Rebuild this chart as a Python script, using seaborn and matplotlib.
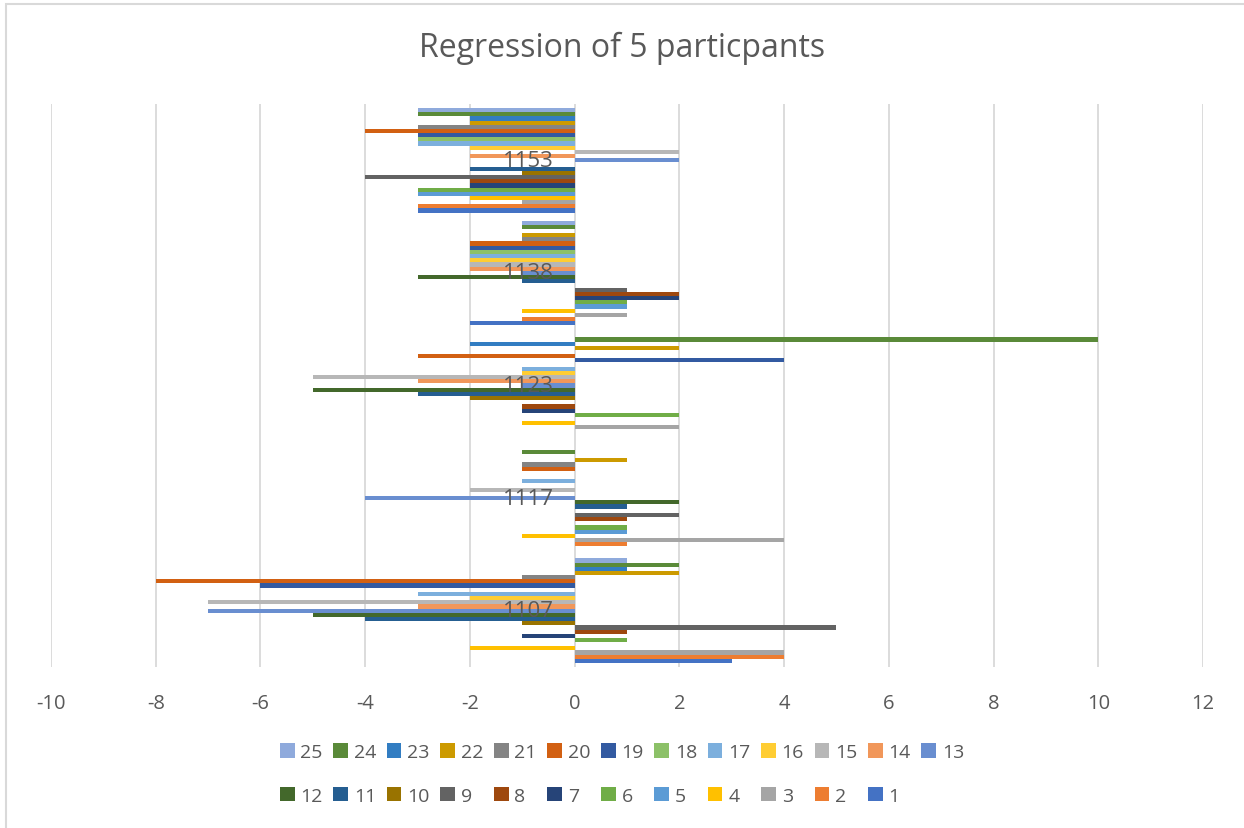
import matplotlib
matplotlib.use("Agg")
import matplotlib.pyplot as plt
from matplotlib.patches import Rectangle, Patch
import seaborn as sns
import pandas as pd

# Participants (categories) and the 25 regression series
participants = ["1107", "1117", "1123", "1138", "1153"]
series = [str(i) for i in range(1, 26)]

# values per participant, series 1 .. 25
v1107 = [3, 4, 4, -2, 0, 1, -1, 1, 5, -1, -4, -5, -7, -3, -7, -2, -3, 0, -6, -8, -1, 2, 1, 2, 1]
v1117 = [0, 1, 4, -1, 1, 1, 0, 1, 2, 0, 1, 2, -4, 0, -2, 0, -1, 0, 0, -1, -1, 1, 0, -1, 0]
v1123 = [0, 0, 2, -1, 0, 2, -1, -1, 0, -2, -3, -5, -1, -3, -5, -1, -1, 0, 4, -3, 0, 2, -2, 10, 0]
v1138 = [-2, -1, 1, -1, 1, 1, 2, 2, 1, 0, -1, -3, -1, -2, -2, -2, -2, -2, -2, -2, -1, -1, 0, -1, -1]
v1153 = [-3, -3, -1, -2, -3, -3, -2, -2, -4, -1, -2, 0, 2, -2, 2, -2, -3, -3, -3, -4, -3, -2, -2, -3, -3]

# Office-style series palette, series 1 .. 25
colors = ["#4472C4", "#ED7D31", "#A5A5A5", "#FFC000", "#5B9BD5", "#70AD47",
          "#264478", "#9E480E", "#636363", "#997300", "#255E91", "#43682B",
          "#698ED0", "#F1975A", "#B7B7B7", "#FFCD33", "#7CAFDD", "#8CC168",
          "#335AA1", "#D26012", "#848484", "#CC9A00", "#327DC2", "#5A8A39",
          "#8FAADC"]

title = "Regression of 5 particpants"
xticks = [-10, -8, -6, -4, -2, 0, 2, 4, 6, 8, 10, 12]

values = {"1107": v1107, "1117": v1117, "1123": v1123, "1138": v1138, "1153": v1153}
rows = []
for p in participants:
    for s, v in zip(series, values[p]):
        rows.append({"participant": p, "series": s, "value": v})
df = pd.DataFrame(rows)
palette = dict(zip(series, colors))

sns.set_theme(style="white")
plt.rcParams["font.family"] = ["Open Sans", "DejaVu Sans"]
text_color = "#595959"

fig = plt.figure(figsize=(12.44, 8.29), dpi=100)
ax = fig.add_axes([51 / 1244, 161 / 829, 1152 / 1244, 563 / 829])

sns.barplot(data=df, y="participant", x="value", hue="series",
            order=participants[::-1], hue_order=series[::-1],
            palette=palette, saturation=1, orient="h", width=0.93, dodge=True,
            linewidth=0, errorbar=None, legend=False, ax=ax)

ax.set_xlim(-10, 12)
ax.set_xticks(xticks)
ax.set_xticklabels([str(t) for t in xticks], color=text_color, fontsize=14.5)
ax.tick_params(axis="x", length=0, pad=19)
ax.set_yticks([])
ax.set_xlabel("")
ax.set_ylabel("")
ax.set_axisbelow(True)
ax.grid(axis="x", color="#D9D9D9", linewidth=1.3)
ax.grid(axis="y", visible=False)
for sp in ax.spines.values():
    sp.set_visible(False)

# category labels sit at the zero line, on top of the bars
for i, p in enumerate(participants[::-1]):
    ax.text(-0.4, i, p, ha="right", va="center", fontsize=16,
            color=text_color, zorder=10)

fig.text(0.5, 1 - 48 / 829, title, ha="center", va="center",
         fontsize=23, color=text_color)

# legend: top row 25..13, bottom row 12..1
handles = []
order = []
for j in range(12):
    order += [str(25 - j), str(12 - j)]
order.append("13")
for s in order:
    handles.append(Patch(facecolor=palette[s], edgecolor="none", label=s))
fig.legend(handles=handles, loc="center", bbox_to_anchor=(0.5, 1 - 775 / 829),
           ncol=13, frameon=False, fontsize=14, labelcolor=text_color,
           handlelength=0.75, handleheight=0.75, handletextpad=0.3,
           columnspacing=0.55, labelspacing=1.3)

# chart area border
fig.patches.append(Rectangle((6 / 1244, -0.1), 1.2, 1 - 5 / 829 + 0.1,
                             transform=fig.transFigure, fill=False,
                             edgecolor="#D9D9D9", linewidth=1.5))

fig.savefig("out.png", dpi=100, facecolor="white")
